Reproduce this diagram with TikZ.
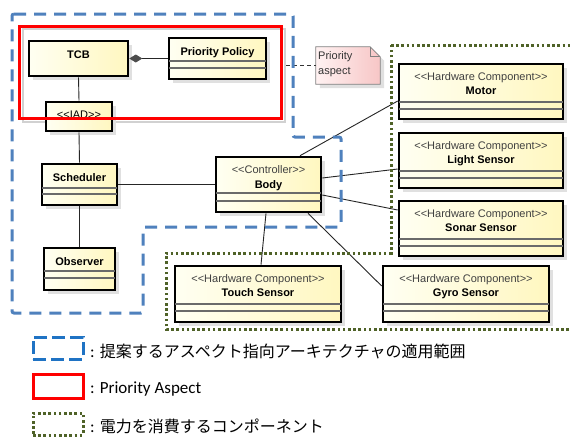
\documentclass[tikz,border=0pt]{standalone}
\usepackage{fontspec}
\setmainfont{Liberation Sans}
\newfontfamily\carlito{Carlito}
\newfontfamily\cjk{Noto Sans CJK JP}
\usetikzlibrary{arrows.meta,shadows,fit,calc}
\pgfdeclarelayer{bg}
\pgfsetlayers{bg,main}
\definecolor{boxL}{HTML}{FFFFF2}
\definecolor{boxR}{HTML}{FFF7C0}
\definecolor{compline}{HTML}{6A6A6A}
\definecolor{stereo}{HTML}{404040}
\definecolor{aspblue}{HTML}{4F81BD}
\definecolor{legblue}{HTML}{1F73C4}
\definecolor{pwrgreen}{HTML}{4F6228}
\definecolor{noteL}{HTML}{FFF2F2}
\definecolor{noteR}{HTML}{F7C6C6}
\tikzset{
  cls/.style={draw=black, line width=2.6pt, left color=boxL, right color=boxR, inner sep=0pt,
    drop shadow={shadow xshift=4pt, shadow yshift=-4pt, fill=black!12, opacity=1}},
  comp/.style={draw=compline, line width=1.3pt},
  nm/.style={font=\fontsize{11}{13}\selectfont\bfseries, inner sep=0pt, anchor=base},
  st/.style={font=\fontsize{11}{13}\selectfont, text=stereo, inner sep=0pt, anchor=base},
  conn/.style={draw=black!85, line width=0.9pt},
  lshadow/.style={draw=black!13, line width=1pt, transform canvas={xshift=4pt, yshift=-4pt}},
  pkgframe/.style={draw=black!18, line width=2pt, inner sep=0pt},
  notebox/.style={draw=black!50, line width=0.8pt, left color=noteL, right color=noteR,
    drop shadow={shadow xshift=4pt, shadow yshift=-4pt, fill=black!12, opacity=1}},
  notelink/.style={draw=black!80, line width=0.8pt, dash pattern=on 4pt off 3pt},
  notetext/.style={font=\fontsize{11}{13}\selectfont, text=black!80, inner sep=0pt, anchor=base west},
  aspregion/.style={draw=aspblue, line width=3pt, dash pattern=on 12pt off 8pt, rounded corners=2pt},
  prioregion/.style={draw=red, line width=3pt},
  pwrregion/.style={draw=pwrgreen, line width=3pt, dash pattern=on 2.6pt off 2.6pt},
  legtext/.style={font=\fontsize{17}{20}\selectfont\carlito, inner sep=0pt, anchor=base west},
}
\newcommand\hwbox[6]{%
  \node[cls, fit={(#2,#3) (#4,#5)}] (#1) {};
  \draw[comp] (#2,#3+38) -- (#4,#3+38);
  \draw[comp] (#2,#3+45) -- (#4,#3+45);
  \node[st] (#1-s) at ({(#2+#4)/2},#3+16) {<{}<Hardware Component>{}>};
  \node[nm] (#1-n) at ({(#2+#4)/2},#3+30.5) {#6};
}
\begin{document}
\begin{tikzpicture}[x=1pt,y=-1pt]
\clip (0,0) rectangle (570,437);
\fill[white] (0,0) rectangle (570,437);

% package frame
\node[pkgframe, fit={(23,29) (285,122)}] (pkg) {};

% classes
\node[cls, fit={(29,41) (128,76)}] (tcb) {};
\node[nm] (tcb-n) at (78.5,58) {TCB};

\node[cls, fit={(169,38) (266,79)}] (pp) {};
\draw[comp] (169,61) -- (266,61);
\draw[comp] (169,68) -- (266,68);
\node[nm] (pp-n) at (217.5,55) {Priority Policy};

\node[cls, fit={(46,102) (112,131)}] (iad) {};
\node[st, text=black] (iad-n) at (79,118.5) {<{}<IAD>{}>};

\node[cls, fit={(42,164) (117,205)}] (sched) {};
\draw[comp] (42,188) -- (117,188);
\draw[comp] (42,194) -- (117,194);
\node[nm] (sched-n) at (79.5,181) {Scheduler};

\node[cls, fit={(44,248) (115,290)}] (obs) {};
\draw[comp] (44,271) -- (115,271);
\draw[comp] (44,278) -- (115,278);
\node[nm] (obs-n) at (79.5,265) {Observer};

\node[cls, fit={(216,157) (321,212)}] (body) {};
\draw[comp] (216,193) -- (321,193);
\draw[comp] (216,201) -- (321,201);
\node[st] (body-s) at (268.5,173.5) {<{}<Controller>{}>};
\node[nm] (body-n) at (268.5,188) {Body};

\hwbox{motor}{399}{64}{563}{119}{Motor}
\hwbox{light}{399}{133}{563}{188}{Light Sensor}
\hwbox{sonar}{399}{201}{563}{256}{Sonar Sensor}
\hwbox{touch}{175}{266}{341}{322}{Touch Sensor}
\hwbox{gyro}{383}{266}{549}{322}{Gyro Sensor}

% note
\node[inner sep=0pt, fit={(316,47) (380,84)}] (note) {};
\draw[notebox] (note.north west) -- ([xshift=-10pt]note.north east) -- ([yshift=-10pt]note.north east)
  -- (note.south east) -- (note.south west) -- cycle;
\draw[draw=black!50, line width=0.8pt] ([xshift=-10pt]note.north east) -- ([xshift=-10pt,yshift=-10pt]note.north east)
  -- ([yshift=-10pt]note.north east);
\node[notetext] (note-t1) at (318,59.5) {Priority};
\node[notetext] (note-t2) at (318,74.5) {aspect};
\draw[notelink] (pkg.east |- note.west) -- (note.west);

% connector shadows
\begin{pgfonlayer}{bg}
\draw[lshadow] (tcb.south) -- (iad.north);
\draw[lshadow] (iad.south) -- (sched.north);
\draw[lshadow] (sched.south) -- (obs.north);
\draw[lshadow] (sched.east) -- (body.west);
\draw[lshadow] ([xshift=31.5pt]body.north) -- ([yshift=-9.5pt]motor.west);
\draw[lshadow] ([yshift=6.5pt]body.east) -- ([yshift=-8.5pt]light.west);
\draw[lshadow] ([yshift=-10.5pt]body.east) -- ([yshift=18.5pt]sonar.west);
\draw[lshadow] ([xshift=-2.5pt]body.south) -- ([xshift=3pt]touch.north);
\draw[lshadow] ([xshift=39.5pt]body.south) -- ([yshift=8pt]gyro.west);
\draw[lshadow] (tcb.east) -- (pp.west);
\end{pgfonlayer}

% connectors
\draw[conn, {Diamond[length=13pt,width=8pt,fill=black!70,color=black!70]}-] (tcb.east) -- (pp.west);
\draw[conn] (tcb.south) -- (iad.north);
\draw[conn] (iad.south) -- (sched.north);
\draw[conn] (sched.south) -- (obs.north);
\draw[conn] (sched.east) -- (body.west);
\draw[conn] ([xshift=31.5pt]body.north) -- ([yshift=-9.5pt]motor.west);
\draw[conn] ([yshift=6.5pt]body.east) -- ([yshift=-8.5pt]light.west);
\draw[conn] ([yshift=-10.5pt]body.east) -- ([yshift=18.5pt]sonar.west);
\draw[conn] ([xshift=-2.5pt]body.south) -- ([xshift=3pt]touch.north);
\draw[conn] ([xshift=39.5pt]body.south) -- ([yshift=8pt]gyro.west);

% regions
\draw[aspregion] (12,14) -- (293,14) -- (293,137) -- (341,137) -- (341,227) -- (143,227) -- (143,313) -- (12,313) -- cycle;
\draw[prioregion] (19,26) rectangle (281,118);
\draw[pwrregion] (391,45) -- (585,45) -- (585,329) -- (166,329) -- (166,253) -- (391,253) -- cycle;

% legend
\node[inner sep=0pt, draw=legblue, line width=3pt, dash pattern=on 13pt off 5pt, fit={(33,337) (83,359)}] (leg1) {};
\node[legtext] (leg1-t) at (90,357.5) {: {\cjk\fontsize{16}{20}\selectfont 提案するアスペクト指向アーキテクチャの適用範囲}};
\node[inner sep=0pt, draw=red, line width=3pt, fit={(33,374) (83,398)}] (leg2) {};
\node[legtext] (leg2-t) at (90,393.5) {: Priority Aspect};
\node[inner sep=0pt, draw=pwrgreen, line width=3pt, dash pattern=on 2.6pt off 2.6pt, fit={(33,413) (83,435)}] (leg3) {};
\node[legtext] (leg3-t) at (90,432) {: {\cjk\fontsize{16}{20}\selectfont 電力を消費するコンポーネント}};
\end{tikzpicture}
\end{document}
